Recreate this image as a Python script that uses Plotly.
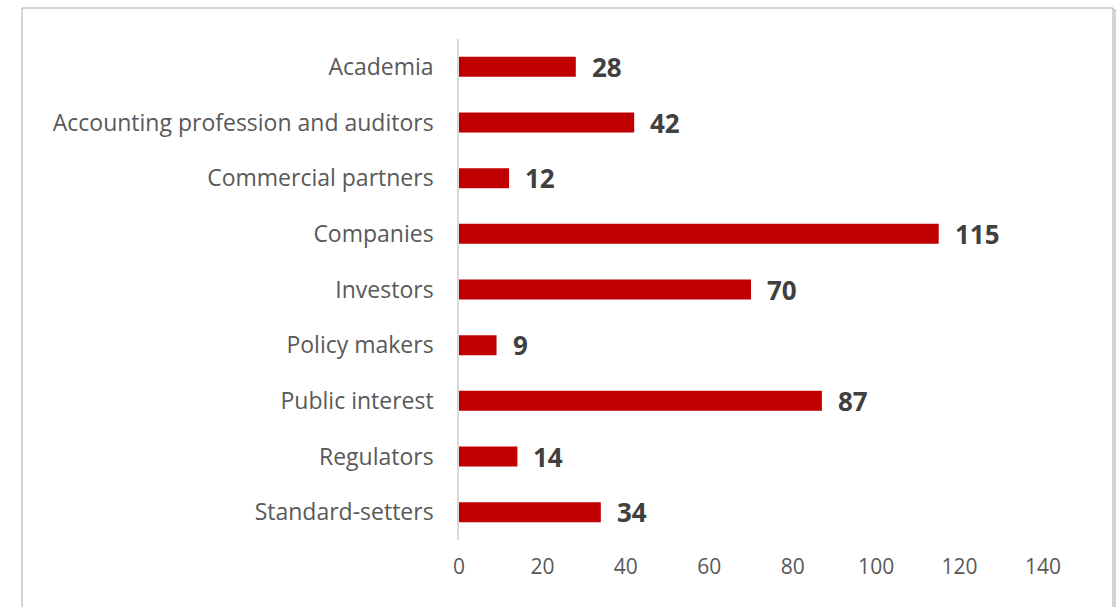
import plotly.graph_objects as go

categories = ["Academia", "Accounting profession and auditors", "Commercial partners",
              "Companies", "Investors", "Policy makers", "Public interest",
              "Regulators", "Standard-setters"]
values = [28, 42, 12, 115, 70, 9, 87, 14, 34]
x_ticks = [0, 20, 40, 60, 80, 100, 120, 140]

W, H = 1117, 607
L, R, T, B = 459, 1117 - 1043, 39, 607 - 540
pw, ph = W - L - R, H - T - B

def px(x):
    return (x - L) / pw

def py(y):
    return (H - B - y) / ph

fig = go.Figure(go.Bar(
    x=values, y=categories, orientation="h",
    marker=dict(color="#C00000", line=dict(width=0)),
    width=0.36,
))

annotations = [
    dict(x=v, y=c, xref="x", yref="y", text=str(v), showarrow=False,
         xanchor="left", yanchor="middle", xshift=14,
         font=dict(family="Open Sans", size=26, color="#404040", weight="bold"))
    for c, v in zip(categories, values)
]

shapes = [
    dict(type="rect", xref="paper", yref="paper",
         x0=px(24), x1=px(1115), y0=py(10), y1=py(640),
         line=dict(color="#d4d4d4", width=2), layer="below"),
    dict(type="rect", xref="paper", yref="paper",
         x0=px(22), x1=px(1113), y0=py(8), y1=py(640),
         line=dict(color="#a8a8a8", width=1), fillcolor="white", layer="below"),
]

fig.update_layout(
    width=W, height=H,
    margin=dict(l=L, r=R, t=T, b=B),
    paper_bgcolor="white", plot_bgcolor="rgba(0,0,0,0)",
    showlegend=False,
    shapes=shapes,
    annotations=annotations,
    font=dict(family="Open Sans", color="#595959"),
)
fig.update_xaxes(range=[0, 140], tickvals=x_ticks, showgrid=False, zeroline=False,
                 showline=False, tickfont=dict(size=21, color="#595959"),
                 ticks="", ticklabelstandoff=12)
fig.update_yaxes(categoryorder="array", categoryarray=categories[::-1],
                 showline=True, linecolor="#d9d9d9", linewidth=1.5,
                 showgrid=False, ticks="", tickfont=dict(size=23, color="#595959"),
                 ticklabelstandoff=19)

fig.write_html(
    "out.html",
    config={"displayModeBar": False},
    post_script="document.body.style.margin='0';"
                "document.body.style.overflow='hidden';"
                "document.documentElement.style.overflow='hidden';",
)
